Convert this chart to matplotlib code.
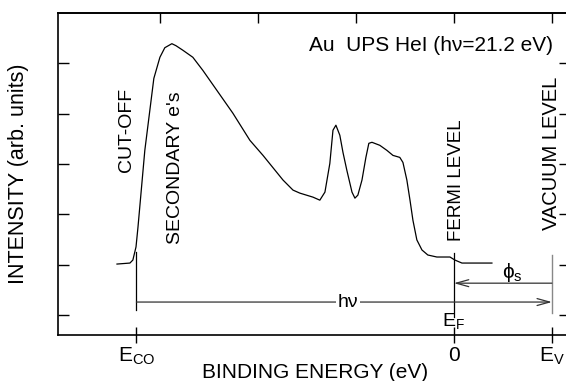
import numpy as np
import matplotlib
matplotlib.use('Agg')
import matplotlib.pyplot as plt

plt.rcParams['font.family'] = ['Liberation Sans', 'DejaVu Sans']
plt.rcParams['mathtext.fontset'] = 'custom'
plt.rcParams['mathtext.rm'] = 'Liberation Sans'
plt.rcParams['mathtext.it'] = 'Liberation Sans:italic'

# UPS He I spectrum of Au
# binding energy axis: E_F = 0, vacuum level at +5 eV
energy = [-17.19, -16.53, -16.38, -16.22, -16.12, -15.77, -15.31, -15.00, -14.75,
          -14.39, -14.18, -13.83, -13.32, -12.81, -12.09, -11.28, -10.41, -9.74,
          -8.72, -8.21, -7.86, -7.19, -6.84, -6.58, -6.33, -6.17, -6.02, -5.82,
          -5.66, -5.46, -5.20, -5.05, -4.90, -4.69, -4.49, -4.34, -4.18, -3.78,
          -3.42, -3.11, -2.76, -2.60, -2.40, -2.24, -2.09, -1.89, -1.63, -1.33,
          -0.87, -0.20, 0.05, 0.41, 1.17, 1.94]
intensity = [1.01, 1.03, 1.09, 1.35, 1.74, 3.27, 4.70, 5.12, 5.31,
             5.39, 5.35, 5.26, 5.12, 4.86, 4.46, 4.01, 3.47, 3.17,
             2.68, 2.48, 2.42, 2.34, 2.28, 2.44, 3.01, 3.67, 3.77, 3.57,
             3.23, 2.87, 2.44, 2.32, 2.38, 2.68, 3.13, 3.41, 3.43, 3.37,
             3.27, 3.17, 3.13, 3.03, 2.68, 2.28, 1.88, 1.49, 1.29, 1.19,
             1.15, 1.15, 1.09, 1.03, 1.03, 1.03]

hv = 21.2
E_F = 0.0
E_V = 5.0
E_CO = E_V - hv

top_ticks = [-15, -10, -5, 0, 5]
y_ticks = [0, 1, 2, 3, 4, 5]
bottom_ticks = [E_CO, E_F, E_V]
bottom_labels = [r'E$_{\rm CO}$', '0', r'E$_{\rm V}$']

fig = plt.figure(figsize=(5.66, 3.81), dpi=100)
ax = fig.add_axes([58 / 566, 46 / 381, 508 / 566, 322 / 381])

ax.plot(energy, intensity, color='black', lw=0.9)

ax.set_xlim(-20.2, 5.72)
ax.set_ylim(-0.4, 6.0)

# energy level markers
ax.plot([E_CO, E_CO], [0.1, 1.25], color='black', lw=0.9)
ax.plot([E_F, E_F], [-0.04, 1.23], color='black', lw=0.9)
ax.plot([E_V, E_V], [0.04, 1.19], color='#888888', lw=1.0)

ax.annotate('', xy=(E_V, 0.255), xytext=(E_CO, 0.255),
            arrowprops=dict(arrowstyle='->,head_length=0.9,head_width=0.25',
                            color='#333333', lw=0.9, shrinkA=0, shrinkB=0))
ax.annotate('', xy=(E_F, 0.63), xytext=(E_V, 0.63),
            arrowprops=dict(arrowstyle='->,head_length=0.9,head_width=0.25',
                            color='#333333', lw=0.9, shrinkA=0, shrinkB=0))

ax.text(-5.41, 0.255, 'hν', ha='center', va='center', fontsize=14,
        bbox=dict(facecolor='white', edgecolor='none', pad=1))
ax.text(2.96, 0.85, r'ϕ$_{\rm s}$', ha='center', va='center', fontsize=15)
ax.text(E_F, 0.07, r'E$_{\rm F}$', ha='center', va='top', fontsize=14)

ax.text(5.05, 5.35, 'Au  UPS HeI (hν=21.2 eV)', ha='right', va='center', fontsize=15)
ax.text(-16.68, 3.67, 'CUT-OFF', rotation=90, ha='center', va='center', fontsize=14)
ax.text(-14.23, 2.93, "SECONDARY e's", rotation=90, ha='center', va='center', fontsize=14)
ax.text(0.15, 2.68, 'FERMI LEVEL', rotation=90, ha='center', va='center', fontsize=13.5)
ax.text(5.0, 3.2, 'VACUUM LEVEL', rotation=90, ha='center', va='center', fontsize=14.5)

ax.set_xticks(bottom_ticks)
ax.set_xticklabels(bottom_labels, fontsize=15)
ax.set_yticks(y_ticks)
ax.set_yticklabels([])
ax.tick_params(axis='x', direction='inout', length=12, width=1.0, pad=2)
ax.tick_params(axis='y', direction='in', length=8, width=1.0)

top = ax.secondary_xaxis('top')
top.set_xticks(top_ticks)
top.set_xticklabels([])
top.tick_params(direction='in', length=7, width=1.0)
right = ax.secondary_yaxis('right')
right.set_yticks(y_ticks)
right.set_yticklabels([])
right.tick_params(direction='in', length=5, width=1.0)
right.spines['right'].set_visible(False)
ax.spines['right'].set_visible(False)
for s in ['left', 'bottom', 'top']:
    ax.spines[s].set_linewidth(1.2)
top.spines['top'].set_linewidth(1.2)

ax.set_xlabel('BINDING ENERGY (eV)', fontsize=15)
ax.xaxis.set_label_coords(0.506, -0.086)
ax.set_ylabel('INTENSITY (arb. units)', fontsize=15.5)
ax.yaxis.set_label_coords(-0.058, 0.5)

fig.savefig('out.png', dpi=100)
